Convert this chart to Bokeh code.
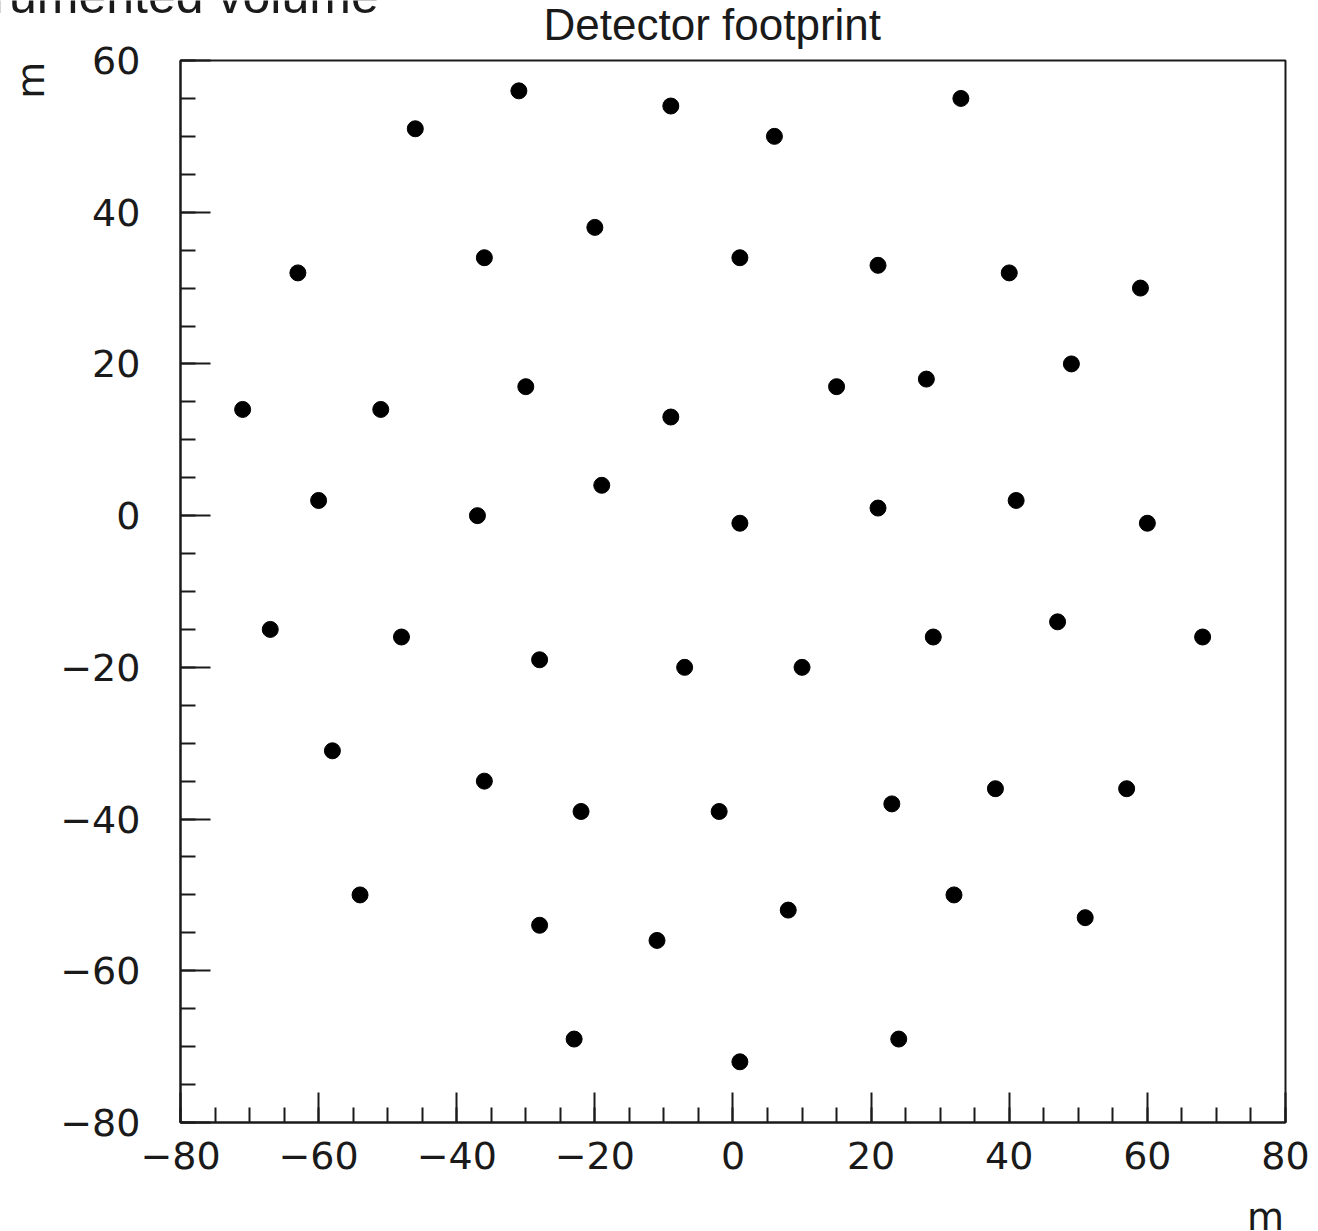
from math import pi

from bokeh.embed import file_html
from bokeh.models import BoxAnnotation, FixedTicker, Label, Range1d
from bokeh.plotting import figure
from bokeh.resources import INLINE

# Station positions in the detector plane (metres)
station_x = [-46, -31, -9, 6, 33,
             -63, -36, -20, 1, 21, 40, 59,
             -71, -51, -30, -9, 15, 28, 49,
             -60, -37, -19, 1, 21, 41, 60,
             -67, -48, -28, -7, 10, 29, 47, 68,
             -58, -36, -22, -2, 23, 38, 57,
             -54, -28, -11, 8, 32, 51,
             -23, 1, 24]
station_y = [51, 56, 54, 50, 55,
             32, 34, 38, 34, 33, 32, 30,
             14, 14, 17, 13, 17, 18, 20,
             2, 0, 4, -1, 1, 2, -1,
             -15, -16, -19, -20, -20, -16, -14, -16,
             -31, -35, -39, -39, -38, -36, -36,
             -50, -54, -56, -52, -50, -53,
             -69, -72, -69]

# Axis ticks and their labels
x_ticks = [-80, -60, -40, -20, 0, 20, 40, 60, 80]
x_tick_labels = ["\u221280", "\u221260", "\u221240", "\u221220", "0", "20", "40", "60", "80"]
y_ticks = [-80, -60, -40, -20, 0, 20, 40, 60]
y_tick_labels = ["\u221280", "\u221260", "\u221240", "\u221220", "0", "20", "40", "60"]
x_minor = list(range(-80, 81, 5))
y_minor = list(range(-80, 61, 5))

# Extent of the framed plotting box
x_box = (-80, 80)
y_box = (-80, 60)

title_text = "Detector footprint"
header_text = "Instrumented volume"
unit_text = "m"

INK = "#1a1a1a"
TICK_FONT = "DejaVu Sans"
TEXT_FONT = "Liberation Sans"

# The frame spans the whole canvas; the axes sit at the edges of the box,
# which leaves room around it for the titles and unit labels.
p = figure(width=1318, height=1231, output_backend="svg", toolbar_location=None,
           x_range=Range1d(-106.06, 84.78), y_range=Range1d(-94.37, 67.91),
           min_border=0)
p.title.visible = False
p.grid.visible = False
p.background_fill_color = "white"
p.border_fill_color = "white"
p.outline_line_color = None

p.add_layout(BoxAnnotation(left=x_box[0], right=x_box[1],
                           bottom=y_box[0], top=y_box[1],
                           fill_color=None, fill_alpha=0,
                           line_color=INK, line_alpha=1.0, line_width=2))

p.scatter(station_x, station_y, marker="circle", size=16,
          fill_color="black", line_color="black")

for ax, ticks, labels, minor, loc, bounds in (
        (p.xaxis[0], x_ticks, x_tick_labels, x_minor, y_box[0], x_box),
        (p.yaxis[0], y_ticks, y_tick_labels, y_minor, x_box[0], y_box)):
    ax.fixed_location = loc
    ax.bounds = bounds
    ax.ticker = FixedTicker(ticks=ticks, minor_ticks=minor)
    ax.major_label_overrides = {t: l for t, l in zip(ticks, labels)}
    ax.axis_line_color = INK
    ax.axis_line_width = 2
    ax.major_tick_line_color = INK
    ax.major_tick_line_width = 2
    ax.minor_tick_line_color = INK
    ax.minor_tick_line_width = 2
    ax.major_tick_in = 30
    ax.major_tick_out = 0
    ax.minor_tick_in = 15
    ax.minor_tick_out = 0
    ax.major_label_text_font = TICK_FONT
    ax.major_label_text_font_size = "38px"
    ax.major_label_text_color = INK

p.xaxis.major_label_standoff = 20
p.yaxis.major_label_standoff = 40

p.add_layout(Label(x=-3, y=64.7, text=title_text, text_align="center",
                   text_baseline="alphabetic", text_font=TEXT_FONT,
                   text_font_size="44px", text_color=INK))
p.add_layout(Label(x=-51.3, y=68.5, text=header_text, text_align="right",
                   text_baseline="alphabetic", text_font=TEXT_FONT,
                   text_font_size="50px", text_color=INK))
p.add_layout(Label(x=77.1, y=-92.4, text=unit_text, text_align="center",
                   text_baseline="middle", text_font=TICK_FONT,
                   text_font_size="38px", text_color=INK))
p.add_layout(Label(x=-101.7, y=57.4, text=unit_text, angle=pi / 2,
                   text_align="center", text_baseline="middle",
                   text_font=TICK_FONT, text_font_size="38px", text_color=INK))

open("out.html", "w").write(file_html(p, INLINE))
